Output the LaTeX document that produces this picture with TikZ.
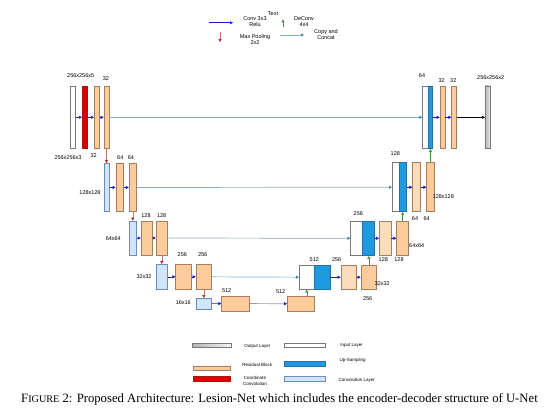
\documentclass[tikz,border=0pt]{standalone}
\usepackage{fontspec}
\setmainfont{Liberation Sans}
\newfontfamily\capfont{Liberation Serif}
\usetikzlibrary{arrows.meta}
\definecolor{resfill}{RGB}{251,203,155}
\definecolor{reslightfill}{RGB}{252,220,184}
\definecolor{resdraw}{RGB}{165,125,95}
\definecolor{upfill}{RGB}{30,154,224}
\definecolor{updraw}{RGB}{40,110,170}
\definecolor{convfill}{RGB}{207,230,250}
\definecolor{convdraw}{RGB}{110,140,180}
\definecolor{coordfill}{RGB}{224,0,0}
\definecolor{coorddraw}{RGB}{170,20,20}
\definecolor{inputdraw}{RGB}{120,120,120}
\definecolor{convcol}{RGB}{26,26,200}
\definecolor{poolcol}{RGB}{200,30,30}
\definecolor{poolline}{RGB}{190,120,120}
\definecolor{upcol}{RGB}{60,150,60}
\definecolor{skipline}{RGB}{130,172,210}
\definecolor{skiphead}{RGB}{50,140,190}
\definecolor{botline}{RGB}{150,150,190}
\begin{document}
\begin{tikzpicture}[x=1pt, y=-1pt,
  bar/.style={draw, inner sep=0pt, line width=0.6pt},
  wh/.style 2 args={minimum width=#1, minimum height=#2},
  inlayer/.style={bar, draw=inputdraw, fill=white},
  coordconv/.style={bar, draw=coorddraw, fill=coordfill},
  resblock/.style={bar, draw=resdraw, fill=resfill},
  reslight/.style={bar, draw=resdraw, fill=reslightfill},
  convlayer/.style={bar, draw=convdraw, fill=convfill},
  upsample/.style={bar, draw=updraw, fill=upfill},
  outlayer/.style={bar, draw=inputdraw, left color=gray!55, right color=gray!15},
  lbl/.style={font=\fontsize{5.5}{6}\selectfont, inner sep=0pt, align=center},
  legtext/.style={font=\fontsize{4.5}{5.5}\selectfont, inner sep=0pt, align=center},
  convarrow/.style={convcol, line width=0.5pt, -{Triangle[length=3pt,width=3pt]}},
  poolarrow/.style={poolline, line width=0.5pt, -{Triangle[length=3pt,width=3pt,color=poolcol]}},
  uparrow/.style={upcol, line width=0.5pt, -{Triangle[length=3pt,width=3pt]}},
  skiparrow/.style={skipline, line width=0.7pt, -{Triangle[length=3pt,width=3pt,color=skiphead]}},
  botarrow/.style={botline, line width=0.7pt, -{Triangle[length=3pt,width=3pt,color=convcol]}},
  outarrow/.style={black, line width=0.5pt, -{Triangle[length=3pt,width=3pt]}}]
\useasboundingbox (0,0) rectangle (558,412);

% top legend
\coordinate (lgconvA) at (209,22.7);
\coordinate (lgconvB) at (233,22.7);
\coordinate (lgpoolA) at (220,32);
\coordinate (lgpoolB) at (220,42);
\coordinate (lgupA) at (283,27.5);
\coordinate (lgupB) at (283,19.5);
\coordinate (lgskipA) at (280,35);
\coordinate (lgskipB) at (304,35);
\draw[convarrow] (lgconvA) -- (lgconvB);
\draw[poolarrow] (lgpoolA) -- (lgpoolB);
\draw[uparrow] (lgupA) -- (lgupB);
\draw[skiparrow] (lgskipA) -- (lgskipB);
\node[lbl] (lgconv) at (255,22) {Conv 3x3\\Relu};
\node[lbl] (lgtext) at (273,14) {Text};
\node[lbl] (lgup) at (304,22) {DeConv\\4x4};
\node[lbl] (lgpool) at (255,39.5) {Max Pooling\\2x2};
\node[lbl] (lgskip) at (326,34.5) {Copy and\\Concat};

% encoder
\def\hA{62.7} \def\hB{48.4} \def\hC{34} \def\hD{25}
\node[inlayer, wh={5}{\hA}] (in0) at (73,117.3) {};
\node[coordconv, wh={5}{\hA}] (cc0) at (84.8,117.3) {};
\node[resblock, wh={5}{\hA}] (r0a) at (96.8,117.3) {};
\node[resblock, wh={5}{\hA}] (r0b) at (106.5,117.3) {};

\node[convlayer, wh={5}{\hB}] (c1) at (106.8,187.5) {};
\node[resblock, wh={7.5}{\hB}] (r1a) at (119.7,187.5) {};
\node[resblock, wh={7.5}{\hB}] (r1b) at (132.8,187.5) {};

\node[convlayer, wh={7.5}{\hC}] (c2) at (132.8,238) {};
\node[resblock, wh={11.5}{\hC}] (r2a) at (146.8,238) {};
\node[resblock, wh={11.5}{\hC}] (r2b) at (161.8,238) {};

\node[convlayer, wh={11.7}{\hD}] (c3) at (161.8,276.8) {};
\node[resblock, wh={16}{\hD}] (r3a) at (183.7,276.8) {};
\node[resblock, wh={15.7}{\hD}] (r3b) at (203.8,276.8) {};

\node[convlayer, wh={15.7}{10.7}] (c4) at (203.8,303.7) {};
\node[resblock, wh={27.6}{15}] (r4a) at (235.5,303.5) {};
\node[resblock, wh={27}{14.3}] (r4b) at (300.8,303.8) {};

% decoder
\node[inlayer, wh={15}{24.3}] (u3w) at (306.8,277.2) {};
\node[upsample, wh={15.7}{24.3}] (u3b) at (322.2,277.2) {};
\node[reslight, wh={15.7}{24.3}] (r3c) at (348.8,277.2) {};
\node[resblock, wh={15.7}{24.3}] (r3d) at (368.8,277.2) {};

\node[inlayer, wh={11.6}{34.7}] (u2w) at (356.5,238.3) {};
\node[upsample, wh={11.7}{34.7}] (u2b) at (368.2,238.3) {};
\node[reslight, wh={11.7}{34.7}] (r2c) at (385.2,238.3) {};
\node[resblock, wh={12}{34.7}] (r2d) at (402.7,238.3) {};

\node[inlayer, wh={7}{49}] (u1w) at (395.8,187.2) {};
\node[upsample, wh={7.4}{49}] (u1b) at (403,187.2) {};
\node[reslight, wh={8}{49}] (r1c) at (416.7,187.2) {};
\node[resblock, wh={7.6}{49}] (r1d) at (430.5,187.2) {};

\node[inlayer, wh={5.3}{\hA}] (u0w) at (425.3,117.3) {};
\node[upsample, wh={4.7}{\hA}] (u0b) at (430.3,117.3) {};
\node[resblock, wh={5}{\hA}] (r0c) at (442.5,117.3) {};
\node[resblock, wh={5}{\hA}] (r0d) at (454.2,117.3) {};
\node[outlayer, wh={5.4}{\hA}] (out0) at (488,117.3) {};

% connectors
\draw[convarrow] (in0) -- (cc0);
\draw[convarrow] (cc0) -- (r0a);
\draw[convarrow] (r0a) -- (r0b);
\draw[convarrow] (c1) -- (r1a);
\draw[convarrow] (r1a) -- (r1b);
\draw[convarrow] (c2) -- (r2a);
\draw[convarrow] (r2a) -- (r2b);
\draw[convarrow] (c3) -- (r3a);
\draw[convarrow] (r3a) -- (r3b);
\draw[convarrow] (c4) -- (r4a);
\draw[botarrow] (r4a) -- (r4b);

\draw[poolarrow] (r0b.south) -- (r0b.south |- c1.north);
\draw[poolarrow] (r1b.south) -- (r1b.south |- c2.north);
\draw[poolarrow] (r2b.south) -- (r2b.south |- c3.north);
\draw[poolarrow] (r3b.south) -- (r3b.south |- c4.north);

\draw[skiparrow] (r0b) -- (u0w);
\draw[skiparrow] (r1b) -- (u1w);
\draw[skiparrow] (r2b) -- (u2w);
\draw[skiparrow] (r3b) -- (u3w);

\draw[uparrow] (r4b.north -| u3w) -- (u3w.south);
\draw[uparrow] (r3d.north) -- (r3d.north |- u2b.south);
\draw[uparrow] (r2d.north) -- (r2d.north |- u1b.south);
\draw[uparrow] (r1d.north) -- (r1d.north |- u0b.south);

\draw[convarrow] (u3b) -- (r3c);
\draw[convarrow] (r3c) -- (r3d);
\draw[convarrow] (u2b) -- (r2c);
\draw[convarrow] (r2c) -- (r2d);
\draw[convarrow] (u1b) -- (r1c);
\draw[convarrow] (r1c) -- (r1d);
\draw[convarrow] (u0b) -- (r0c);
\draw[convarrow] (r0c) -- (r0d);
\draw[outarrow] (r0d) -- (out0);

% sizes and channels
\node[lbl] (t0a) at (80.7,75.3) {256x256x5};
\node[lbl] (t0b) at (106,78.3) {32};
\node[lbl] (t0c) at (68,158) {256x256x3};
\node[lbl] (t0d) at (93.7,155.7) {32};
\node[lbl] (t1a) at (120.3,157.3) {64};
\node[lbl] (t1b) at (131,157.3) {64};
\node[lbl] (t1c) at (90,192.3) {128x128};
\node[lbl] (t2a) at (146,215.7) {128};
\node[lbl] (t2b) at (161.7,215.7) {128};
\node[lbl] (t2c) at (113.3,238.7) {64x64};
\node[lbl] (t3a) at (182.3,255) {256};
\node[lbl] (t3b) at (202.7,255) {256};
\node[lbl] (t3c) at (144,276.7) {32x32};
\node[lbl] (t4a) at (183.3,302.7) {16x16};
\node[lbl] (t4b) at (226.7,291) {512};
\node[lbl] (t4c) at (280.7,291.7) {512};
\node[lbl] (d3a) at (314.3,260) {512};
\node[lbl] (d3b) at (336.7,260) {256};
\node[lbl] (d3c) at (382.3,283.3) {32x32};
\node[lbl] (d3d) at (367.7,298.3) {256};
\node[lbl] (d2a) at (358.3,214) {256};
\node[lbl] (d2b) at (383.3,260) {128};
\node[lbl] (d2c) at (399,260) {128};
\node[lbl] (d2d) at (416.7,246) {64x64};
\node[lbl] (d1a) at (395.3,153.3) {128};
\node[lbl] (d1b) at (415,219) {64};
\node[lbl] (d1c) at (426.7,219) {64};
\node[lbl] (d1d) at (443.3,196.7) {128x128};
\node[lbl] (d0a) at (422,75.3) {64};
\node[lbl] (d0b) at (441.7,80.7) {32};
\node[lbl] (d0c) at (453.3,80.7) {32};
\node[lbl] (d0d) at (490.7,77.3) {256x256x2};

% bottom legend
\node[bar, draw=inputdraw, left color=gray!60, right color=gray!5, wh={39.4}{4.4}] (kout) at (212,345.5) {};
\node[inlayer, wh={41.4}{4.4}] (kin) at (305,345.5) {};
\node[resblock, wh={37.4}{4}] (kres) at (212,368.7) {};
\node[upsample, wh={41.4}{5}] (kup) at (305,363.5) {};
\node[coordconv, wh={37.4}{5}] (kcc) at (212,379.2) {};
\node[convlayer, wh={41.4}{5}] (kconv) at (305,379.2) {};
\node[legtext] (koutt) at (257.3,346) {Output Layer};
\node[legtext] (kint) at (351.7,345.7) {Input Layer};
\node[legtext] (krest) at (257.3,364.5) {Residual Block};
\node[legtext] (kupt) at (352.7,360) {Up-Sampling};
\node[legtext] (kcct) at (255,380.8) {Coordinate\\Convolution};
\node[legtext] (kconvt) at (356.7,380) {Convolution Layer};

% caption
\node[font=\capfont\fontsize{12.7}{15}\selectfont, inner sep=0pt] (caption) at (279.5,399.5)
  {F{\fontsize{10.2}{12}\selectfont IGURE} 2: Proposed Architecture: Lesion-Net which includes the encoder-decoder structure of U-Net};
\end{tikzpicture}
\end{document}
